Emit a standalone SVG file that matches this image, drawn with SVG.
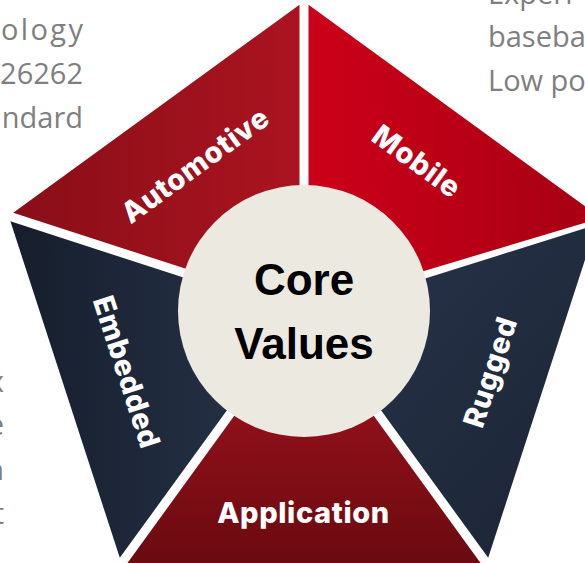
<svg xmlns="http://www.w3.org/2000/svg" width="585" height="563" viewBox="0 0 585 563">
<style>
.gray{font-family:"Open Sans","Liberation Sans",sans-serif;font-size:29px;fill:#7f7f7f}
.lbl{font-family:"Inter","Open Sans",sans-serif;font-size:29px;font-weight:800;letter-spacing:0.6px;fill:#ffffff;text-anchor:middle;dominant-baseline:central}
.core{font-family:"Liberation Sans","Arial",sans-serif;font-size:44px;font-weight:700;fill:#000000;text-anchor:middle}
</style>
<defs>
<linearGradient id="gAuto" x1="0" y1="0" x2="1" y2="0"><stop offset="0" stop-color="#890e17"/><stop offset="1" stop-color="#aa1420"/></linearGradient>
<linearGradient id="gMob" x1="0" y1="0" x2="1" y2="0"><stop offset="0" stop-color="#cc0019"/><stop offset="1" stop-color="#a60012"/></linearGradient>
<linearGradient id="gRug" x1="0" y1="0" x2="1" y2="1"><stop offset="0" stop-color="#27344b"/><stop offset="1" stop-color="#1b2434"/></linearGradient>
<linearGradient id="gEmb" x1="0" y1="0" x2="1" y2="0"><stop offset="0" stop-color="#161e2c"/><stop offset="1" stop-color="#27344b"/></linearGradient>
<linearGradient id="gApp" x1="0" y1="0" x2="0" y2="1"><stop offset="0" stop-color="#a8141f"/><stop offset="1" stop-color="#6a0a10"/></linearGradient>
</defs>
<rect width="585" height="563" fill="#ffffff"/>
<g id="side-text">
<text class="gray" x="83" y="40" text-anchor="end" textLength="82" lengthAdjust="spacing">ology</text>
<text class="gray" x="83" y="84" text-anchor="end">26262</text>
<text class="gray" x="83" y="128" text-anchor="end">ndard</text>
<text class="gray" x="488" y="4">Experi</text>
<text class="gray" x="488" y="47">baseba</text>
<text class="gray" x="488" y="91">Low po</text>
<text class="gray" x="4" y="392" text-anchor="end">x</text>
<text class="gray" x="4" y="435" text-anchor="end">e</text>
<text class="gray" x="4" y="480" text-anchor="end">n</text>
<text class="gray" x="4" y="524" text-anchor="end">t</text>
</g>
<g id="automotive">
<polygon points="299.5,4.7 13.2,212.7 299.5,305.7" fill="url(#gAuto)"/>
<text class="lbl" transform="translate(195,165) rotate(-36)">Automotive</text>
</g>
<g id="mobile">
<polygon points="308.5,4.7 600.9,217.9 308.5,305.7" fill="url(#gMob)"/>
<text class="lbl" transform="translate(417,161) rotate(36)">Mobile</text>
</g>
<g id="rugged">
<polygon points="596.4,224.7 488.2,557.8 311.3,314.3" fill="url(#gRug)"/>
<text class="lbl" transform="translate(490,372) rotate(-72)">Rugged</text>
</g>
<g id="application">
<polygon points="480.9,563.5 127.1,563.5 304,319.6" fill="url(#gApp)"/>
<text class="lbl" x="303.5" y="523" style="dominant-baseline:auto">Application</text>
</g>
<g id="embedded">
<polygon points="119.8,557.8 10.4,221.3 296.7,314.3" fill="url(#gEmb)"/>
<text class="lbl" transform="translate(127,372) rotate(72)">Embedded</text>
</g>
<g id="connectors"></g>
<g id="core-values">
<circle cx="304" cy="311" r="126" fill="#ece9e0"/>
<text class="core" x="304" y="295">Core</text>
<text class="core" x="304" y="359">Values</text>
</g>
</svg>
